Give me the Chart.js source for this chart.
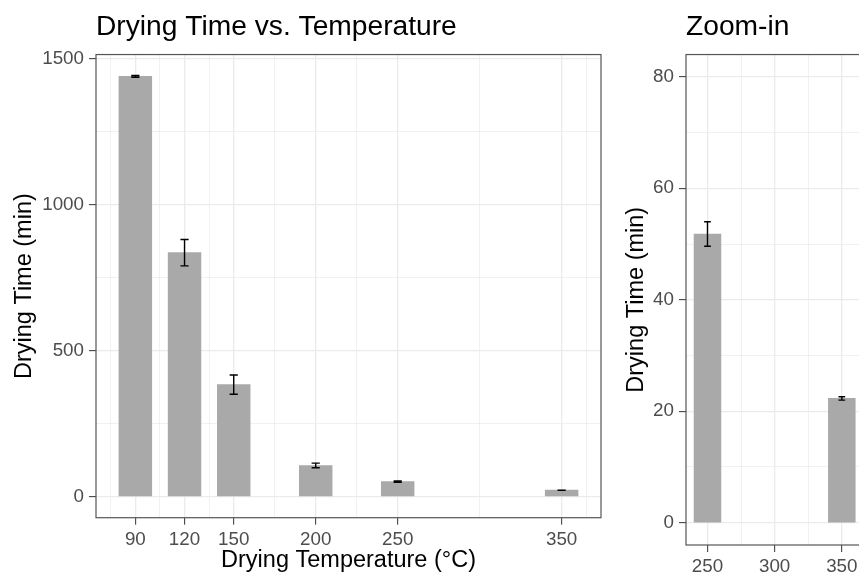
<!DOCTYPE html>
<html>
<head>
<meta charset="utf-8">
<script src="https://cdn.jsdelivr.net/npm/chart.js@4/dist/chart.umd.min.js"></script>
<style>
    html, body { margin: 0; padding: 0; background: #fff; }
    body { width: 859px; height: 576px; overflow: hidden; position: relative; }
    canvas { position: absolute; top: 0; }
    #mainChart { left: 0; }
    #zoomChart { left: 610px; }
</style>
</head>
<body>
<canvas id="mainChart" width="620" height="576"></canvas>
<canvas id="zoomChart" width="280" height="576"></canvas>
<script>
// data
const temps = [90, 120, 150, 200, 250, 350];
const dryTime = [1440, 836, 384, 107, 51.8, 22.3];
const dryErr = [3, 45, 33, 8, 2.2, 0.3];

const zoomTemps = [250, 350];
const zoomTime = [51.8, 22.3];
const zoomErr = [2.2, 0.3];

// axis breaks
const mainXTicks = [90, 120, 150, 200, 250, 350];
const mainXMinor = [75, 105, 135, 175, 225, 300, 365];
const mainYTicks = [0, 500, 1000, 1500];
const mainYMinor = [250, 750, 1250];

const zoomXTicks = [250, 300, 350];
const zoomXMinor = [275, 325];
const zoomYTicks = [0, 20, 40, 60, 80];
const zoomYMinor = [10, 30, 50, 70];

const FONT = "'Liberation Sans', Arial, Helvetica, sans-serif";
const BAR_WIDTH = 20;   // in x units
const CAP_WIDTH = 5;    // in x units

const errorBars = {
    id: "errorBars",
    afterDatasetsDraw(chart, args, opts) {
        const { ctx, scales: { x, y } } = chart;
        const points = chart.data.datasets[0].data;
        ctx.save();
        ctx.strokeStyle = "#000";
        ctx.lineWidth = 1.4;
        points.forEach((p, i) => {
            const e = opts.err[i];
            const px = x.getPixelForValue(p.x);
            const hw = x.getPixelForValue(p.x + CAP_WIDTH / 2) - px;
            const top = y.getPixelForValue(p.y + e);
            const bot = y.getPixelForValue(p.y - e);
            ctx.beginPath();
            ctx.moveTo(px, top); ctx.lineTo(px, bot);
            ctx.moveTo(px - hw, top); ctx.lineTo(px + hw, top);
            ctx.moveTo(px - hw, bot); ctx.lineTo(px + hw, bot);
            ctx.stroke();
        });
        ctx.restore();
    }
};

const panelBorder = {
    id: "panelBorder",
    afterDraw(chart) {
        const { ctx, chartArea: a } = chart;
        ctx.save();
        ctx.strokeStyle = "#555";
        ctx.lineWidth = 1.2;
        ctx.strokeRect(a.left, a.top, a.right - a.left, a.bottom - a.top);
        ctx.restore();
    }
};

function breakAxis(majors, minors, min, max, size, extra) {
    const isMajor = v => majors.includes(v);
    return Object.assign({
        type: "linear",
        min: min,
        max: max,
        offset: false,
        afterBuildTicks: s => {
            s.ticks = majors.concat(minors).sort((a, b) => a - b).map(v => ({ value: v }));
        },
        afterFit: s => {
            if (s.isHorizontal()) s.height = size; else s.width = size;
        },
        border: { display: false },
        grid: {
            offset: false,
            color: "#ebebeb",
            lineWidth: c => isMajor(c.tick.value) ? 1.3 : 0.7,
            tickColor: c => isMajor(c.tick.value) ? "#333" : "rgba(0,0,0,0)",
            tickLength: 7,
            tickWidth: 1
        },
        ticks: {
            autoSkip: false,
            maxRotation: 0,
            minRotation: 0,
            color: "#4d4d4d",
            font: { family: FONT, size: 18.8 },
            callback: v => isMajor(v) ? String(v) : ""
        }
    }, extra || {});
}

function makePanel(id, cfg) {
    const chart = new Chart(document.getElementById(id), {
        type: "bar",
        data: {
            datasets: [{
                data: cfg.xs.map((t, i) => ({ x: t, y: cfg.ys[i] })),
                backgroundColor: "#a9a9a9",
                borderWidth: 0,
                barThickness: 30
            }]
        },
        options: {
            responsive: false,
            animation: false,
            layout: { padding: { left: 0, right: cfg.padRight, top: 0, bottom: 0 } },
            plugins: {
                legend: { display: false },
                tooltip: { enabled: false },
                title: {
                    display: true,
                    text: cfg.title,
                    align: "start",
                    fullSize: false,
                    color: "#000",
                    font: { family: FONT, size: 28.2, weight: "normal", lineHeight: 1.2 },
                    padding: { top: 10, bottom: 10.7 }
                },
                errorBars: { err: cfg.err }
            },
            scales: {
                x: breakAxis(cfg.xTicks, cfg.xMinor, cfg.xMin, cfg.xMax, cfg.xHeight, {
                    title: cfg.xTitle ? {
                        display: true,
                        text: cfg.xTitle,
                        color: "#000",
                        font: { family: FONT, size: 23.5, lineHeight: 1.2 },
                        padding: { top: 0, bottom: 1 }
                    } : { display: false }
                }),
                y: breakAxis(cfg.yTicks, cfg.yMinor, cfg.yMin, cfg.yMax, cfg.yWidth, {
                    title: {
                        display: true,
                        text: "Drying Time (min)",
                        color: "#000",
                        font: { family: FONT, size: 23.5, lineHeight: 1.2 },
                        padding: { top: cfg.yTitlePad, bottom: 0 }
                    }
                })
            }
        },
        plugins: [errorBars, panelBorder]
    });
    chart.options.scales.y.ticks.padding = 5;
    chart.options.scales.x.ticks.padding = 4;
    // bar width is set in data units, like the source plot
    const x = chart.scales.x;
    chart.data.datasets[0].barThickness = x.getPixelForValue(BAR_WIDTH) - x.getPixelForValue(0);
    chart.update("none");
    return chart;
}

makePanel("mainChart", {
    title: "Drying Time vs. Temperature",
    xs: temps, ys: dryTime, err: dryErr,
    xTicks: mainXTicks, xMinor: mainXMinor, xMin: 66, xMax: 374,
    yTicks: mainYTicks, yMinor: mainYMinor, yMin: -72, yMax: 1515,
    xTitle: "Drying Temperature (\u00b0C)",
    padRight: 19, xHeight: 58.3, yWidth: 96, yTitlePad: 10
});

makePanel("zoomChart", {
    title: "Zoom-in",
    xs: zoomTemps, ys: zoomTime, err: zoomErr,
    xTicks: zoomXTicks, xMinor: zoomXMinor, xMin: 234, xMax: 366,
    yTicks: zoomYTicks, yMinor: zoomYMinor, yMin: -4, yMax: 84,
    xTitle: null,
    padRight: 26.7, xHeight: 31, yWidth: 76, yTitlePad: 12
});
</script>
</body>
</html>
